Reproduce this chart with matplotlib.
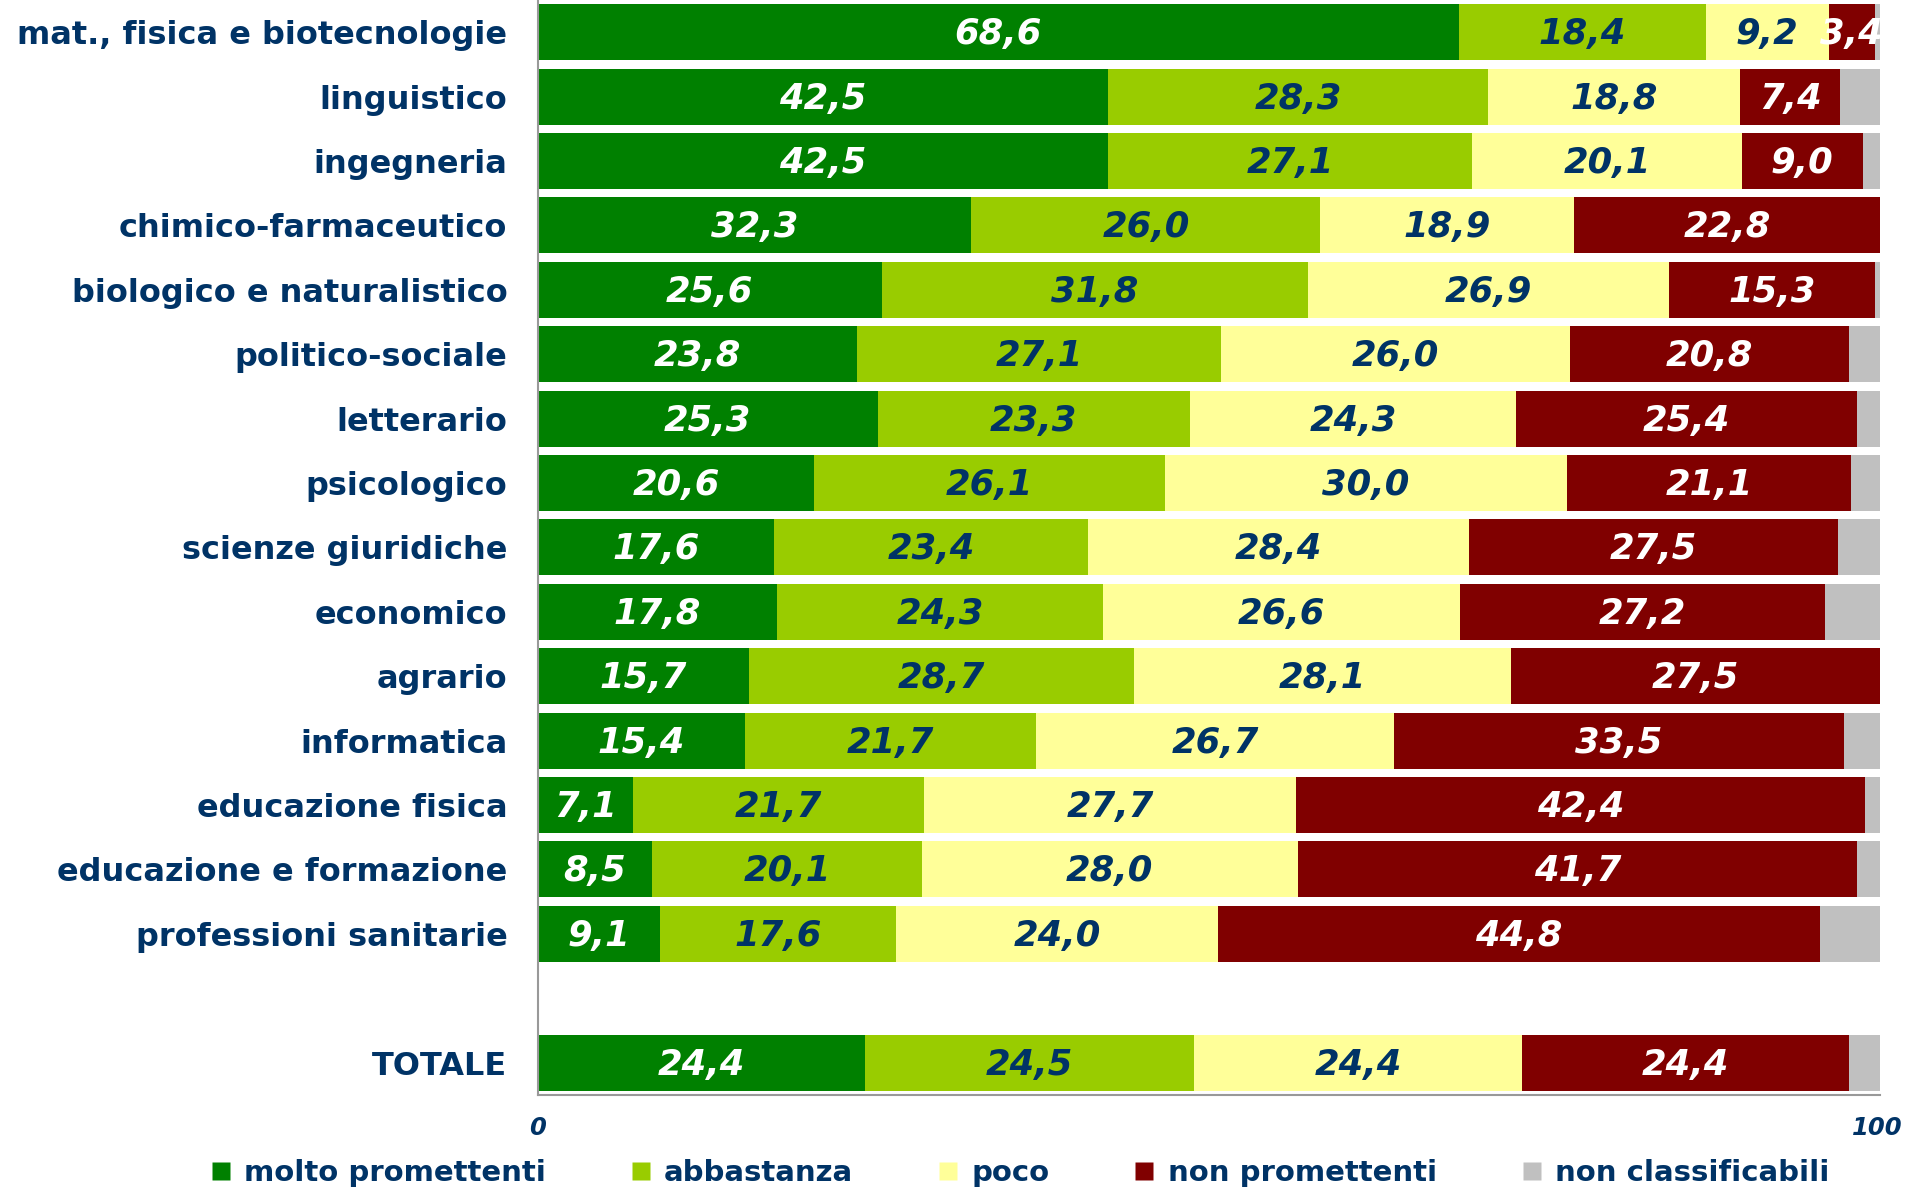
import matplotlib.pyplot as plt
from matplotlib.lines import Line2D
from matplotlib.transforms import ScaledTranslation

# categories, top to bottom
categories = ["mat., fisica e biotecnologie", "linguistico", "ingegneria",
              "chimico-farmaceutico", "biologico e naturalistico", "politico-sociale",
              "letterario", "psicologico", "scienze giuridiche", "economico", "agrario",
              "informatica", "educazione fisica", "educazione e formazione",
              "professioni sanitarie", "TOTALE"]

molto = [68.6, 42.5, 42.5, 32.3, 25.6, 23.8, 25.3, 20.6, 17.6, 17.8, 15.7, 15.4, 7.1, 8.5, 9.1, 24.4]
abbastanza = [18.4, 28.3, 27.1, 26.0, 31.8, 27.1, 23.3, 26.1, 23.4, 24.3, 28.7, 21.7, 21.7, 20.1, 17.6, 24.5]
poco = [9.2, 18.8, 20.1, 18.9, 26.9, 26.0, 24.3, 30.0, 28.4, 26.6, 28.1, 26.7, 27.7, 28.0, 24.0, 24.4]
non_prom = [3.4, 7.4, 9.0, 22.8, 15.3, 20.8, 25.4, 21.1, 27.5, 27.2, 27.5, 33.5, 42.4, 41.7, 44.8, 24.4]
non_class = [0.4, 3.0, 1.3, 0.0, 0.4, 2.3, 1.7, 2.2, 3.1, 4.1, 0.0, 2.7, 1.1, 1.7, 4.5, 2.3]

series = [molto, abbastanza, poco, non_prom, non_class]
names = ["molto promettenti", "abbastanza", "poco", "non promettenti", "non classificabili"]
colors = ["#008000", "#99CC00", "#FFFF99", "#800000", "#C0C0C0"]
text_colors = ["white", "#003366", "#003366", "white", None]
navy = "#003366"

# one empty slot before TOTALE
ypos = list(range(15)) + [16]

fig = plt.figure(figsize=(19.05, 11.9), dpi=100)
ax = fig.add_axes([0.2824, 0.080, 0.7045, 0.920])

left = [0.0] * len(categories)
for vals, col, tcol in zip(series, colors, text_colors):
    ax.barh(ypos, vals, left=left, height=0.87, color=col, edgecolor="none")
    if tcol is not None:
        for y, l, v in zip(ypos, left, vals):
            ax.text(l + v / 2, y + 0.03, f"{v:.1f}".replace(".", ","), ha="center", va="center",
                    color=tcol, fontsize=25.5, fontweight="bold", fontstyle="italic")
    left = [a + b for a, b in zip(left, vals)]

ax.set_xlim(0, 100)
ax.set_ylim(16.5, -0.5)
ax.set_yticks(ypos)
ax.set_yticklabels(categories, fontsize=23, fontweight="bold", color=navy)
ax.set_xticks([0, 100])
ax.set_xticklabels(["0", "100"], fontsize=17.5, fontweight="bold", fontstyle="italic", color=navy)
ax.tick_params(axis="y", length=0, pad=22)
ax.tick_params(axis="x", length=0, pad=15)
# nudge "100" a little left so it stays inside the figure
lbl = ax.get_xticklabels()[1]
lbl.set_transform(lbl.get_transform() + ScaledTranslation(-3 / 100, 0, fig.dpi_scale_trans))
for s in ["top", "right"]:
    ax.spines[s].set_visible(False)
for s in ["left", "bottom"]:
    ax.spines[s].set_color("#999999")
    ax.spines[s].set_linewidth(1.5)

handles = [Line2D([], [], marker="s", linestyle="none", markersize=13,
                  markerfacecolor=c, markeredgecolor="none") for c in colors]
fig.legend(handles, names, loc="center", bbox_to_anchor=(0.535, 0.014), ncol=5,
           frameon=False, columnspacing=2.85, handletextpad=0.4, handlelength=0.8,
           prop={"size": 21, "weight": "bold"}, labelcolor=navy)

fig.savefig("out.png", dpi=100)
